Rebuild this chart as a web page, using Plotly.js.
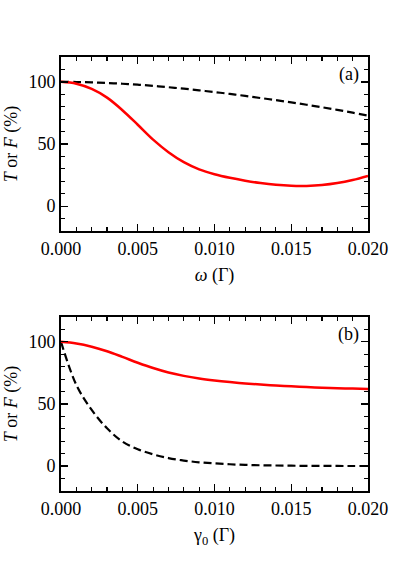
<!DOCTYPE html>
<html>
<head>
<meta charset="utf-8">
<script src="https://cdn.plot.ly/plotly-3.0.1.min.js"></script>
<style>
  html, body { margin: 0; padding: 0; background: #fff; }
  #chart { width: 409px; height: 578px; }
</style>
</head>
<body>
<div id="chart"></div>
<script>
// x values, both panels (units of Gamma)
const omega  = [0, 0.001, 0.002, 0.003, 0.004, 0.005, 0.006, 0.007, 0.008, 0.009, 0.010,
                0.011, 0.012, 0.013, 0.014, 0.015, 0.016, 0.017, 0.018, 0.019, 0.020];
const gamma0 = omega.slice();

// panel (a): red solid and black dashed curves, in %
const redA   = [100, 98.5, 94.3, 87.3, 77.2, 65.5, 53.5, 43.4, 35.4, 29.6, 25.7,
                22.8, 20.5, 18.6, 17.2, 16.4, 16.3, 17.0, 18.6, 21.1, 24.4];
const blackA = [100, 99.9, 99.6, 99.1, 98.5, 97.7, 96.8, 95.7, 94.5, 93.2, 91.8,
                90.3, 88.7, 87.0, 85.3, 83.5, 81.6, 79.6, 77.5, 75.2, 72.8];

// panel (b)
const redB   = [100, 98.7, 96.1, 92.4, 87.9, 83.2, 78.9, 75.3, 72.6, 70.5, 68.9,
                67.6, 66.5, 65.6, 64.8, 64.2, 63.6, 63.1, 62.7, 62.4, 62.1];
const blackB = [100, 65.3, 45.2, 30.4, 19.8, 13.6, 9.5, 6.5, 4.5, 3.1, 2.2,
                1.5, 1.0, 0.7, 0.5, 0.35, 0.25, 0.2, 0.15, 0.1, 0.1];

const red = { color: '#ff0000', width: 2.5, shape: 'spline' };
const dash = { color: '#000000', width: 2.2, dash: '8px,4px', shape: 'spline' };

const traces = [
  { x: omega, y: blackA, xaxis: 'x', yaxis: 'y', mode: 'lines', line: dash },
  { x: omega, y: redA, xaxis: 'x', yaxis: 'y', mode: 'lines', line: red },
  { x: gamma0, y: blackB, xaxis: 'x2', yaxis: 'y2', mode: 'lines', line: dash },
  { x: gamma0, y: redB, xaxis: 'x2', yaxis: 'y2', mode: 'lines', line: red }
];

function xAxis(title, anchor) {
  return {
    anchor: anchor,
    range: [0, 0.02],
    tickvals: [0, 0.005, 0.01, 0.015, 0.02],
    ticktext: ['0.000', '0.005', '0.010', '0.015', '0.020'],
    ticks: 'inside', ticklen: 7, tickwidth: 1.3, tickcolor: '#000',
    minor: { dtick: 0.001, ticks: 'inside', ticklen: 4, tickwidth: 1.2, tickcolor: '#000' },
    ticklabelstandoff: 1,
    showline: true, linecolor: '#000', linewidth: 1.8, mirror: 'allticks',
    showgrid: false, zeroline: false,
    tickfont: { family: 'Liberation Serif', size: 18, color: '#000' },
    title: { text: title, font: { family: 'Liberation Serif', size: 18, color: '#000' }, standoff: 10 }
  };
}

function yAxis(anchor, domain) {
  return {
    anchor: anchor,
    domain: domain,
    range: [-20, 120],
    tickvals: [0, 50, 100],
    ticks: 'inside', ticklen: 7, tickwidth: 1.3, tickcolor: '#000',
    minor: { dtick: 10, ticks: 'inside', ticklen: 4, tickwidth: 1.2, tickcolor: '#000' },
    ticklabelstandoff: 0,
    showline: true, linecolor: '#000', linewidth: 1.8, mirror: 'allticks',
    showgrid: false, zeroline: false,
    tickfont: { family: 'Liberation Serif', size: 18, color: '#000' },
    title: { text: '<i>T</i> or <i>F</i> (%)', font: { family: 'Liberation Serif', size: 18, color: '#000' }, standoff: 6 }
  };
}

const layout = {
  width: 409, height: 578,
  margin: { l: 61, r: 41, t: 57, b: 87 },
  paper_bgcolor: '#fff', plot_bgcolor: '#fff',
  showlegend: false,
  xaxis: xAxis('<i>ω</i> (Γ)', 'y'),
  yaxis: yAxis('x', [0.599, 1]),
  xaxis2: xAxis('γ<sub>0</sub> (Γ)', 'y2'),
  yaxis2: yAxis('x2', [0, 0.401]),
  annotations: [
    { text: '(a)', xref: 'x', yref: 'y', x: 0.01876, y: 105.6, showarrow: false,
      font: { family: 'Liberation Serif', size: 18, color: '#000' } },
    { text: '(b)', xref: 'x2', yref: 'y2', x: 0.01876, y: 105.6, showarrow: false,
      font: { family: 'Liberation Serif', size: 18, color: '#000' } }
  ]
};

Plotly.newPlot('chart', traces, layout, { displayModeBar: false, staticPlot: true });
</script>
</body>
</html>
